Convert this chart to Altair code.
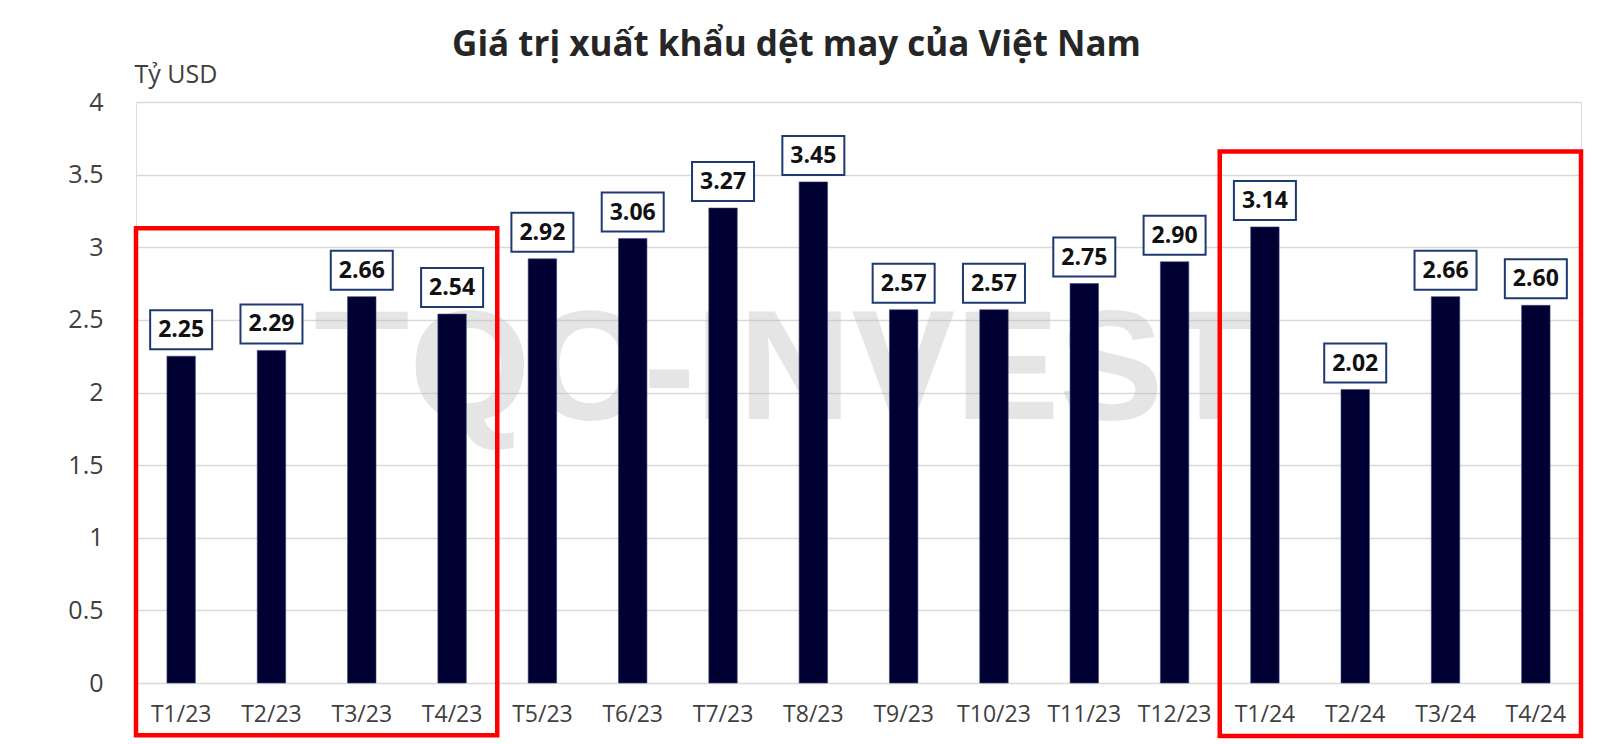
import altair as alt
import pandas as pd

# ---- data ----
months = ["T1/23", "T2/23", "T3/23", "T4/23", "T5/23", "T6/23", "T7/23", "T8/23",
          "T9/23", "T10/23", "T11/23", "T12/23", "T1/24", "T2/24", "T3/24", "T4/24"]
values = [2.25, 2.29, 2.66, 2.54, 2.92, 3.06, 3.27, 3.45,
          2.57, 2.57, 2.75, 2.90, 3.14, 2.02, 2.66, 2.60]
y_ticks = [0, 0.5, 1, 1.5, 2, 2.5, 3, 3.5, 4]

# highlight boxes (in category-index units / value units)
hl_start = [0, 12]
hl_end = [4, 16]
hl_top = [3.13, 3.66]
hl_bottom = [-0.36, -0.365]

watermark = ["TQC-INVEST"]
wm_x = [7.2]
wm_y = [2.14]

df = pd.DataFrame({"month": months, "value": values})
hl = pd.DataFrame({"x0": hl_start, "x1": hl_end, "y0": hl_bottom, "y1": hl_top})
wm = pd.DataFrame({"t": watermark, "x": wm_x, "y": wm_y})

W, H = 1445, 581
FONT = "Open Sans"

yscale = alt.Scale(domain=[0, 4], nice=False, zero=True)
xband = alt.Scale(domain=months, paddingInner=0.685, paddingOuter=0.3425)
xq = alt.Scale(domain=[0, 16], nice=False, zero=False)

yaxis = alt.Axis(values=y_ticks, labelExpr="'' + datum.value", grid=True,
                 gridColor="#d9d9d9", gridWidth=1.5, domain=False, ticks=False,
                 labelFontSize=25, labelColor="#404040", labelFont=FONT,
                 labelPadding=33, title="Tỷ USD", titleAngle=0, titleX=-2,
                 titleY=-28, titleAlign="left", titleBaseline="middle",
                 titleFont=FONT, titleFontSize=25, titleFontWeight="normal",
                 titleColor="#404040")

# watermark (quantitative x layer)
wm_layer = alt.Chart(wm).mark_text(
    font="Liberation Sans", fontWeight="bold", fontSize=156,
    color="#bdbdbd", opacity=0.38, baseline="middle", align="center"
).encode(
    x=alt.X("x:Q", scale=xq, axis=None),
    y=alt.Y("y:Q", scale=yscale, axis=yaxis),
    text="t:N",
)

bars = alt.Chart(df).mark_bar(color="#000033", stroke="#3a4a78", strokeWidth=0.6).encode(
    x=alt.X("month:N", scale=xband, sort=months,
            axis=alt.Axis(title=None, labelAngle=0, ticks=False, domain=False,
                          labelFontSize=23, labelColor="#404040", labelFont=FONT,
                          labelPadding=20, grid=False)),
    y=alt.Y("value:Q", scale=yscale, axis=yaxis),
)

boxes = alt.Chart(df).mark_rect(
    width=62, fill="white", stroke="#1f3a70", strokeWidth=2,
    yOffset=-46, y2Offset=-7
).encode(
    x=alt.X("month:N", scale=xband, sort=months),
    y=alt.Y("value:Q", scale=yscale),
    y2=alt.Y2("value:Q"),
)

labels = alt.Chart(df).mark_text(
    font=FONT, fontWeight="bold", fontSize=23, color="#111111",
    baseline="middle", align="center", dy=-26
).encode(
    x=alt.X("month:N", scale=xband, sort=months),
    y=alt.Y("value:Q", scale=yscale),
    text=alt.Text("value:Q", format=".2f"),
)

band_layer = alt.layer(bars, boxes, labels)

hl_layer = alt.Chart(hl).mark_rect(
    fill=None, fillOpacity=0, stroke="#ff0000", strokeWidth=4.5
).encode(
    x=alt.X("x0:Q", scale=xq, axis=None),
    x2="x1:Q",
    y=alt.Y("y0:Q", scale=yscale),
    y2="y1:Q",
)

chart = alt.layer(wm_layer, band_layer, hl_layer).resolve_scale(
    x="independent"
).properties(
    width=W, height=H,
    title=alt.TitleParams(
        "Giá trị xuất khẩu dệt may của Việt Nam",
        font=FONT, fontSize=35, fontWeight="bold", color="#262626",
        anchor="middle", frame="group", dx=-62, dy=13, offset=12,
    ),
    autosize=alt.AutoSizeParams(type="none"),
    padding={"left": 136, "top": 102, "right": 19, "bottom": 61},
).configure_view(stroke=None).configure(background="white")

chart.save("out.html", embed_options={"renderer": "svg", "actions": False})
